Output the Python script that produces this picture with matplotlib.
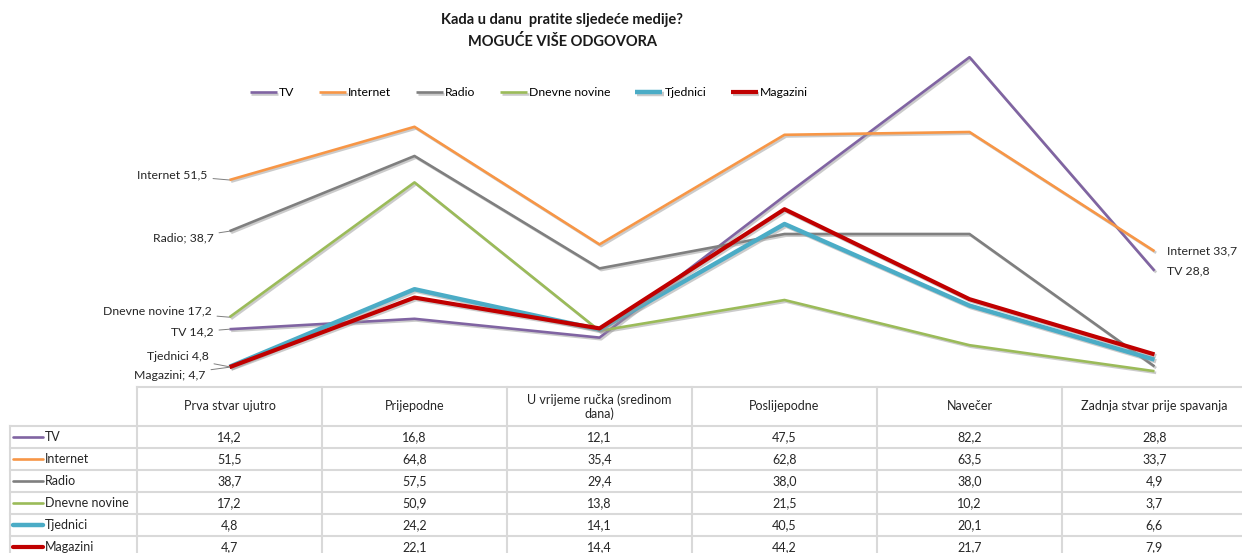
import matplotlib.pyplot as plt
import matplotlib.patheffects as pe

categories = ["Prva stvar ujutro", "Prijepodne", "U vrijeme ručka (sredinom\ndana)",
              "Poslijepodne", "Navečer", "Zadnja stvar prije spavanja"]
series_names = ["TV", "Internet", "Radio", "Dnevne novine", "Tjednici", "Magazini"]
tv = [14.2, 16.8, 12.1, 47.5, 82.2, 28.8]
internet = [51.5, 64.8, 35.4, 62.8, 63.5, 33.7]
radio = [38.7, 57.5, 29.4, 38.0, 38.0, 4.9]
dnevne = [17.2, 50.9, 13.8, 21.5, 10.2, 3.7]
tjednici = [4.8, 24.2, 14.1, 40.5, 20.1, 6.6]
magazini = [4.7, 22.1, 14.4, 44.2, 21.7, 7.9]
all_values = [tv, internet, radio, dnevne, tjednici, magazini]

colors = ["#8064A2", "#F79646", "#7F7F7F", "#9BBB59", "#4BACC6", "#C00000"]
widths = [1.9, 1.9, 1.9, 1.9, 3.2, 3.0]

# start-point labels (left) and end-point labels (right)
left_labels = ["TV 14,2", "Internet 51,5", "Radio; 38,7", "Dnevne novine 17,2", "Tjednici 4,8", "Magazini; 4,7"]
left_offsets = [(-16, -3), (-22, 5), (-16, -7), (-18, 6), (-21, 10), (-24, -8)]
right_labels = {0: "TV 28,8", 1: "Internet 33,7"}

plt.rcParams['font.family'] = ['Lato', 'DejaVu Sans']

W, H = 1242, 553
fig = plt.figure(figsize=(W / 100, H / 100), dpi=100)

# plot area in pixels: x 137..1247, y=0 at 386, y=90 at 26
left_px, right_px, zero_px, top_px = 137, 1247, 386, 26
ax = fig.add_axes([left_px / W, (H - zero_px) / H, (right_px - left_px) / W, (zero_px - top_px) / H])
ax.set_xlim(-0.5, 5.5)
ax.set_ylim(0, 90)
ax.axis('off')

shadow = [pe.SimpleLineShadow(offset=(1.2, -1.2), shadow_color='#999999', alpha=0.5), pe.Normal()]
x = list(range(len(categories)))
handles = []
for name, vals, c, lw in zip(series_names, all_values, colors, widths):
    h, = ax.plot(x, vals, color=c, lw=lw, label=name, path_effects=shadow, solid_capstyle='butt')
    handles.append(h)

for i, (lab, off) in enumerate(zip(left_labels, left_offsets)):
    ax.annotate(lab, xy=(0, all_values[i][0]), xytext=(off[0] / 1.389, off[1] / 1.389),
                textcoords='offset points', ha='right', va='center', fontsize=8.8, color='#262626',
                arrowprops=dict(arrowstyle='-', color='#7f7f7f', lw=0.7, shrinkA=2, shrinkB=0))
for i, lab in right_labels.items():
    ax.annotate(lab, xy=(5, all_values[i][5]), xytext=(9, 0), textcoords='offset points',
                ha='left', va='center', fontsize=8.8, color='#262626')

fig.text(562 / W, 1 - 20 / H, "Kada u danu  pratite sljedeće medije?", ha='center', va='center',
         fontsize=10.5, fontweight='bold', color='#1a1a1a')
fig.text(562 / W, 1 - 42 / H, "MOGUĆE VIŠE ODGOVORA", ha='center', va='center',
         fontsize=10.5, fontweight='bold', color='#1a1a1a')

fig.legend(handles=handles, loc='center', bbox_to_anchor=(529 / W, 1 - 93 / H), ncol=6,
           frameon=False, fontsize=8.8, handlelength=2.2, handletextpad=0.2, columnspacing=2.0)

# data table drawn in pixel coordinates
tab = fig.add_axes([0, 0, 1, 1])
tab.set_xlim(0, W)
tab.set_ylim(H, 0)
tab.axis('off')
grid = '#d9d9d9'
col_w = (right_px - left_px) / len(categories)
head_top, head_bot, row_h = 387, 426, 22
label_left = 10
n_rows = len(series_names)
bottom = head_bot + row_h * n_rows

tab.plot([left_px, right_px], [head_top, head_top], color=grid, lw=1.5)
for r in range(n_rows + 1):
    y = head_bot + r * row_h
    tab.plot([label_left, right_px], [y, y], color=grid, lw=1.5)
tab.plot([label_left, label_left], [head_bot, bottom], color=grid, lw=1.5)
for j in range(len(categories) + 1):
    xx = left_px + j * col_w
    tab.plot([xx, xx], [head_top, bottom], color=grid, lw=1.5)

for j, cat in enumerate(categories):
    tab.text(left_px + (j + 0.5) * col_w, (head_top + head_bot) / 2, cat, ha='center', va='center',
             fontsize=9, color='#262626', linespacing=1.15)

for r, (name, vals, c, lw) in enumerate(zip(series_names, all_values, colors, widths)):
    yc = head_bot + (r + 0.5) * row_h
    tab.plot([13, 43], [yc, yc], color=c, lw=lw, solid_capstyle='round')
    tab.text(45, yc, name, ha='left', va='center', fontsize=9, color='#262626')
    for j, v in enumerate(vals):
        tab.text(left_px + (j + 0.5) * col_w, yc, f"{v:.1f}".replace('.', ','), ha='center',
                 va='center', fontsize=9, color='#262626')

fig.savefig("out.png", dpi=100, facecolor='white')
